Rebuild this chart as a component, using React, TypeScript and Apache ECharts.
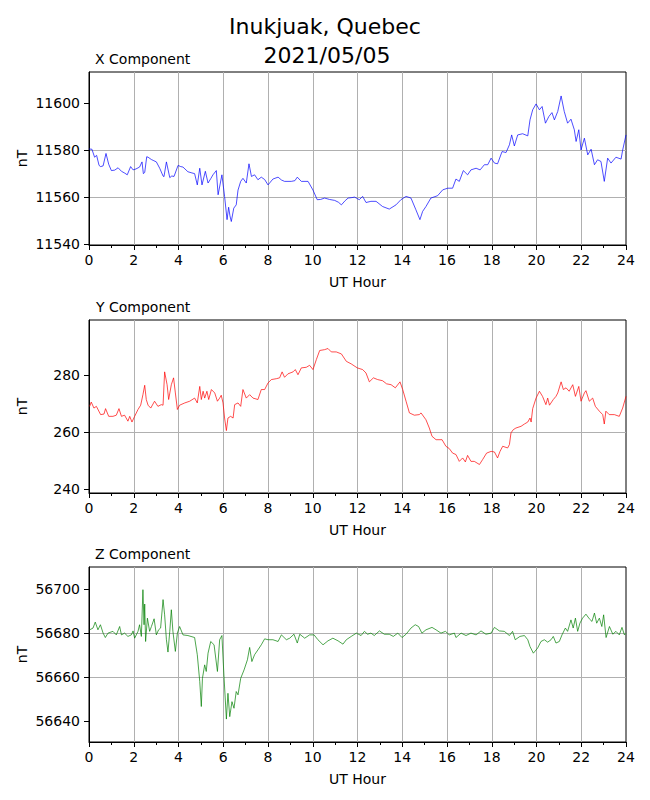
import React, { useEffect, useRef } from "react";
import * as echarts from "echarts";

const TITLE_LINES = ["Inukjuak, Quebec", "2021/05/05"];
const PANEL_TITLES = ["X Component", "Y Component", "Z Component"];
const Y_LABEL = "nT";
const X_LABEL = "UT Hour";

const X_TICKS = [0, 2, 4, 6, 8, 10, 12, 14, 16, 18, 20, 22, 24];
const X_Y_TICKS = [11540, 11560, 11580, 11600];
const Y_Y_TICKS = [240, 260, 280];
const Z_Y_TICKS = [56640, 56660, 56680, 56700];

const xHours = [
  0.0, 0.13, 0.25, 0.34, 0.45, 0.52, 0.63, 0.76, 0.88, 1.0, 1.15, 1.3, 1.45, 1.6, 1.71, 1.86, 1.97, 2.1, 2.26, 2.37,
  2.43, 2.49, 2.58, 2.64, 2.79, 2.9, 3.01, 3.16, 3.31, 3.35, 3.46, 3.61, 3.7, 3.8, 3.98, 4.1, 4.2, 4.42, 4.6, 4.72,
  4.84, 4.95, 5.05, 5.2, 5.32, 5.45, 5.54, 5.69, 5.77, 5.94, 6.06, 6.17, 6.24, 6.3, 6.36, 6.47, 6.58, 6.66, 6.78, 6.88,
  7.03, 7.15, 7.26, 7.4, 7.55, 7.7, 7.85, 8.0, 8.22, 8.45, 8.6, 8.74, 9.04, 9.2, 9.31, 9.49, 9.79, 10.01, 10.2, 10.35,
  10.53, 10.75, 10.98, 11.15, 11.28, 11.45, 11.58, 11.75, 11.87, 12.08, 12.23, 12.38, 12.6, 12.83, 13.12, 13.42, 13.72,
  13.94, 14.17, 14.39, 14.61, 14.79, 14.91, 15.06, 15.28, 15.58, 15.81, 16.03, 16.25, 16.4, 16.55, 16.73, 16.92, 17.07,
  17.3, 17.48, 17.67, 17.82, 17.97, 18.12, 18.26, 18.46, 18.64, 18.79, 18.89, 19.01, 19.16, 19.38, 19.61, 19.71, 19.83,
  19.98, 20.13, 20.25, 20.4, 20.55, 20.69, 20.8, 20.95, 21.1, 21.24, 21.39, 21.54, 21.69, 21.77, 21.89, 21.99, 22.14,
  22.29, 22.44, 22.59, 22.73, 22.88, 23.03, 23.18, 23.33, 23.55, 23.78, 23.85, 24.0,
];
const xValues = [
  11580.5, 11580.4, 11577, 11577.8, 11573.5, 11573, 11573.3, 11578.6, 11574, 11571.3, 11571.5, 11572.5, 11571, 11570.2,
  11569.5, 11573, 11571.6, 11572, 11572.8, 11575, 11570, 11570.5, 11577.2, 11577, 11576, 11575.5, 11575, 11572.3,
  11569, 11568.7, 11575, 11568.3, 11569, 11568.8, 11573.5, 11573, 11572.8, 11570.8, 11570.3, 11570, 11565.2, 11572.3,
  11565.2, 11571, 11566, 11568, 11569.5, 11571.3, 11561, 11569.5, 11560.3, 11550.4, 11555.7, 11552, 11549.6, 11555.3,
  11556.7, 11563, 11566.7, 11568, 11566, 11574.2, 11568.8, 11569.5, 11567.4, 11568.5, 11567.5, 11565.2, 11567.7,
  11568.5, 11567.3, 11566.7, 11566.7, 11567, 11568.5, 11566.7, 11566.7, 11563, 11558.9, 11559, 11559.6, 11559,
  11558.6, 11557.8, 11556.7, 11558.5, 11559.6, 11559.8, 11560, 11558.9, 11560.3, 11557.7, 11558.2, 11558.2, 11556,
  11554.9, 11556.7, 11558.9, 11560.3, 11559.6, 11554.6, 11550.4, 11553.9, 11556, 11559.6, 11560.6, 11563.1, 11563.8,
  11563.8, 11567.7, 11566.7, 11571.3, 11569.5, 11571.6, 11572.3, 11571.6, 11573.8, 11573.8, 11576.6, 11574.5,
  11574.2, 11579.4, 11579, 11582.3, 11586.5, 11581.8, 11586.5, 11587, 11586.1, 11592.9, 11597.2, 11599.7, 11597.2,
  11598.6, 11591.5, 11594.3, 11596, 11592.9, 11596.5, 11603.1, 11596.5, 11591.5, 11593.2, 11588.7, 11583.7, 11588.7,
  11580.1, 11585.1, 11578, 11580.4, 11573.8, 11575.9, 11575.2, 11566.7, 11576.6, 11574.5, 11577, 11576.2, 11580,
  11586.5,
];

const yHours = [
  0.03, 0.1, 0.22, 0.33, 0.52, 0.67, 0.74, 0.88, 1.07, 1.22, 1.34, 1.45, 1.59, 1.74, 1.82, 1.92, 2.04, 2.19, 2.31, 2.41,
  2.49, 2.56, 2.64, 2.76, 2.93, 3.08, 3.23, 3.31, 3.38, 3.49, 3.56, 3.68, 3.78, 3.86, 3.95, 4.05, 4.28, 4.5, 4.72, 4.84,
  4.95, 5.02, 5.1, 5.17, 5.27, 5.35, 5.47, 5.62, 5.74, 5.84, 5.91, 5.99, 6.06, 6.14, 6.21, 6.33, 6.44, 6.51, 6.66, 6.78,
  6.88, 7.03, 7.18, 7.33, 7.55, 7.7, 7.85, 8.0, 8.15, 8.37, 8.52, 8.63, 8.74, 8.89, 9.12, 9.22, 9.34, 9.49, 9.71, 9.86,
  10.01, 10.16, 10.31, 10.53, 10.68, 10.83, 11.05, 11.28, 11.5, 11.72, 11.99, 12.23, 12.38, 12.53, 12.71, 12.9, 13.12,
  13.3, 13.5, 13.69, 13.9, 14.02, 14.17, 14.32, 14.54, 14.76, 14.84, 15.06, 15.21, 15.33, 15.51, 15.78, 15.95, 16.1,
  16.25, 16.4, 16.55, 16.7, 16.82, 16.92, 17.07, 17.22, 17.45, 17.59, 17.77, 17.97, 18.12, 18.26, 18.37, 18.49, 18.71,
  18.79, 18.86, 18.96, 19.08, 19.31, 19.46, 19.61, 19.71, 19.76, 19.83, 19.98, 20.13, 20.27, 20.42, 20.5, 20.58, 20.75,
  20.87, 20.95, 21.1, 21.2, 21.32, 21.46, 21.62, 21.74, 21.89, 21.99, 22.14, 22.21, 22.36, 22.51, 22.63, 22.81, 22.96,
  23.03, 23.1, 23.25, 23.48, 23.7, 23.85, 24.0,
];
const yValues = [
  269.1, 270.6, 268.5, 269.1, 266.2, 266.4, 268.3, 265.6, 265.6, 266, 268.3, 265.6, 266, 263.9, 265.6, 263.6, 265.6, 268,
  269.5, 273.2, 276.5, 271.5, 269.5, 268.5, 270.9, 269.1, 269.7, 269.5, 281.2, 276.7, 271.5, 276.7, 279.1, 273.8, 268,
  269.5, 270.3, 270.9, 272, 270.3, 276.1, 271.5, 274.4, 272, 274.4, 271.5, 275, 273.8, 270.9, 272, 273, 270.3, 265,
  260.6, 265, 265.6, 265, 269.7, 270.3, 269.1, 275, 272, 273.2, 272, 271.5, 275, 275, 277.3, 278.5, 278.8, 279.1, 281.2,
  279.3, 280.5, 281.2, 282, 280.2, 282.6, 282.8, 283.5, 282, 285.5, 288.7, 289, 289.4, 288.2, 288.2, 287.5, 284.9, 284,
  282.6, 282, 280.8, 277.7, 279.1, 278.5, 278.1, 277, 276.7, 275.6, 277.7, 275, 270.9, 266.8, 266, 266.2, 266.8, 264.4,
  261.5, 258.6, 257.4, 257.4, 255.1, 254.3, 252.7, 252.2, 249.8, 251, 249.6, 251.9, 249.8, 249.8, 248.7, 250.4, 252.7,
  253.3, 253.1, 251, 253.3, 255.1, 254.5, 255.7, 259.8, 260.9, 261.5, 262.1, 262.9, 263.6, 265, 263.6, 268.3, 272,
  274.4, 272.6, 269.7, 272, 269.5, 271.5, 272.6, 273.8, 277.7, 275, 275.6, 274.4, 276.7, 272.6, 276.1, 270.9, 273.8,
  274.6, 270.9, 272, 269.1, 267.4, 266.2, 262.9, 267.4, 266.2, 266.2, 265.6, 268.5, 272.6,
];

const zHours = [
  0.03, 0.18, 0.28, 0.4, 0.51, 0.63, 0.73, 0.85, 1.07, 1.22, 1.37, 1.45, 1.59, 1.74, 1.89, 1.97, 2.04, 2.19, 2.26, 2.34,
  2.41, 2.46, 2.49, 2.53, 2.61, 2.71, 2.79, 2.91, 3.01, 3.11, 3.2, 3.31, 3.38, 3.46, 3.53, 3.61, 3.68, 3.75, 3.86, 3.95,
  4.05, 4.2, 4.42, 4.72, 4.84, 4.95, 5.02, 5.07, 5.17, 5.24, 5.32, 5.44, 5.59, 5.74, 5.84, 5.94, 6.03, 6.14, 6.21, 6.29,
  6.39, 6.48, 6.58, 6.66, 6.78, 6.93, 7.08, 7.18, 7.28, 7.4, 7.55, 7.7, 7.85, 8.0, 8.22, 8.45, 8.6, 8.82, 8.97, 9.16,
  9.31, 9.42, 9.64, 9.86, 10.06, 10.23, 10.46, 10.68, 10.9, 11.13, 11.35, 11.5, 11.72, 11.95, 12.16, 12.31, 12.45, 12.6,
  12.75, 12.98, 13.2, 13.42, 13.6, 13.8, 13.99, 14.17, 14.39, 14.58, 14.73, 14.88, 15.06, 15.33, 15.51, 15.73, 15.93,
  16.1, 16.33, 16.4, 16.63, 16.85, 17.07, 17.3, 17.52, 17.74, 17.97, 18.12, 18.34, 18.56, 18.79, 18.93, 19.05, 19.26,
  19.46, 19.61, 19.71, 19.86, 20.05, 20.2, 20.35, 20.5, 20.65, 20.75, 20.87, 21.02, 21.14, 21.29, 21.39, 21.54, 21.64,
  21.74, 21.84, 21.94, 22.06, 22.21, 22.36, 22.48, 22.59, 22.69, 22.81, 22.92, 23.0, 23.11, 23.26, 23.41, 23.55, 23.7,
  23.82, 23.93, 24.0,
];
const zValues = [
  56681.5, 56682.3, 56685, 56681.5, 56683.8, 56680, 56678, 56680, 56680.8, 56679.2, 56683, 56679.2, 56680, 56678.5,
  56679.2, 56681, 56677.7, 56680.8, 56683.8, 56678.5, 56699.7, 56683.8, 56693.2, 56676.2, 56686.8, 56680.8, 56683,
  56686.5, 56679.2, 56681.5, 56682.3, 56695.2, 56688.3, 56677, 56671.4, 56680.8, 56690.6, 56680.8, 56671.7, 56680,
  56683, 56679.2, 56678.9, 56678, 56670.2, 56658, 56646.7, 56659.5, 56665.6, 56662.6, 56670.9, 56676.2, 56674.7,
  56662.6, 56677, 56678.9, 56661, 56641, 56652.7, 56642.1, 56648.9, 56645.9, 56653.5, 56652, 56659.5, 56663.3, 56667.9,
  56673.5, 56667.1, 56670.2, 56672.4, 56674.7, 56677.4, 56677, 56677, 56676.2, 56679.2, 56677, 56677.7, 56679.5,
  56675.5, 56679.5, 56677.7, 56679.2, 56679.2, 56677, 56674.7, 56676.5, 56677.7, 56676.5, 56675, 56677, 56678.5, 56680,
  56678.9, 56680.8, 56679.5, 56680, 56678.9, 56681, 56679.5, 56679.5, 56678.5, 56680, 56678, 56679.5, 56682.3, 56683.8,
  56683, 56680, 56681.5, 56682.6, 56681.5, 56680, 56680.8, 56679.2, 56680, 56678, 56680, 56678.9, 56680, 56679.2,
  56681, 56679.5, 56680, 56682.6, 56681, 56680.8, 56678.9, 56680.8, 56677, 56678.5, 56678.9, 56677, 56673.9, 56670.9,
  56673.2, 56676.2, 56677, 56675.9, 56677, 56678.5, 56675.5, 56676.2, 56679.2, 56682.3, 56680.8, 56686, 56682.3,
  56686.8, 56680.8, 56684.5, 56686.8, 56688.6, 56686.5, 56685.3, 56689.1, 56684.5, 56686.8, 56683, 56688.3, 56678,
  56683, 56679.5, 56680.8, 56679.2, 56682.6, 56679.2, 56680,
];

const FONT = '"DejaVu Sans", "Liberation Sans", sans-serif';

type Panel = {
  title: string;
  hours: number[];
  values: number[];
  ticks: number[];
  color: string;
  top: number;
  height: number;
  min: number;
  max: number;
  titleX: number;
};

const PANELS: Panel[] = [
  { title: PANEL_TITLES[0], hours: xHours, values: xValues, ticks: X_Y_TICKS, color: "#0000ff", top: 72, height: 173, min: 11539.6, max: 11613.3, titleX: 95 },
  { title: PANEL_TITLES[1], hours: yHours, values: yValues, ticks: Y_Y_TICKS, color: "#ff0000", top: 320, height: 173, min: 238.7, max: 299.4, titleX: 96 },
  { title: PANEL_TITLES[2], hours: zHours, values: zValues, ticks: Z_Y_TICKS, color: "#008000", top: 567, height: 175, min: 56630.6, max: 56710, titleX: 95 },
];

const LEFT = 89;
const WIDTH = 537;

export default function App() {
  const ref = useRef<HTMLDivElement>(null);

  useEffect(() => {
    if (!ref.current) return;
    const chart = echarts.init(ref.current, undefined, { renderer: "svg" });

    const grids = PANELS.map((p) => ({
      left: LEFT,
      top: p.top,
      width: WIDTH,
      height: p.height,
      show: true,
      borderColor: "#000",
      borderWidth: 1,
      backgroundColor: "transparent",
      containLabel: false,
    }));

    const xAxes = PANELS.map((p, i) => ({
      type: "value",
      gridIndex: i,
      min: X_TICKS[0],
      max: X_TICKS[X_TICKS.length - 1],
      interval: 2,
      axisLine: { show: true, lineStyle: { color: "#000", width: 1 } },
      axisTick: { show: true, length: 5, lineStyle: { color: "#000", width: 1 } },
      minorTick: { show: true, splitNumber: 2, length: 3, lineStyle: { color: "#000", width: 1 } },
      axisLabel: { color: "#000", fontSize: 14, fontFamily: FONT, margin: 8 },
      splitLine: { show: true, showMinLine: false, showMaxLine: false, lineStyle: { color: "#b0b0b0", width: 1 } },
    }));

    const yAxes = PANELS.map((p, i) => ({
      type: "value",
      gridIndex: i,
      min: p.min,
      max: p.max,
      splitNumber: 4,
      axisLine: { show: true, lineStyle: { color: "#000", width: 1 } },
      axisTick: { show: true, length: 5, lineStyle: { color: "#000", width: 1 }, customValues: p.ticks },
      axisLabel: {
        color: "#000",
        fontSize: 14,
        fontFamily: FONT,
        margin: 9,
        customValues: p.ticks,
        formatter: (v: number) => (Math.abs(v / 20 - Math.round(v / 20)) < 1e-6 ? String(Math.round(v)) : ""),
      },
      splitLine: { show: true, showMinLine: false, showMaxLine: false, lineStyle: { color: "#b0b0b0", width: 1 } },
    }));

    const series = PANELS.map((p, i) => ({
      type: "line",
      xAxisIndex: i,
      yAxisIndex: i,
      showSymbol: false,
      symbol: "none",
      lineStyle: { color: p.color, width: 0.7 },
      data: p.hours.map((h, k) => [h, p.values[k]]),
      z: 3,
    }));

    const textStyle = (text: string, size: number, align: string) => ({
      text,
      font: `${size}px ${FONT}`,
      fill: "#000",
      textAlign: align,
      align,
      textVerticalAlign: "middle",
      verticalAlign: "middle",
    });

    const graphics: any[] = [
      { type: "text", x: 325, y: 26, style: textStyle(TITLE_LINES[0], 22, "center") },
      { type: "text", x: 327, y: 55, style: textStyle(TITLE_LINES[1], 22, "center") },
    ];
    PANELS.forEach((p) => {
      const bottom = p.top + p.height;
      graphics.push({ type: "text", x: p.titleX, y: p.top - 13, style: textStyle(p.title, 14, "left") });
      graphics.push({
        type: "text",
        x: 22,
        y: p.top + p.height / 2,
        rotation: Math.PI / 2,
        style: textStyle(Y_LABEL, 14, "center"),
      });
      graphics.push({ type: "text", x: LEFT + WIDTH / 2, y: bottom + 36.6, style: textStyle(X_LABEL, 14, "center") });
    });

    chart.setOption({
      animation: false,
      backgroundColor: "#fff",
      grid: grids,
      xAxis: xAxes,
      yAxis: yAxes,
      series,
      graphic: graphics,
    } as any);

    return () => chart.dispose();
  }, []);

  return (
    <div
      ref={ref}
      style={{ position: "fixed", left: 0, top: 0, width: 650, height: 800, background: "#fff" }}
    />
  );
}
